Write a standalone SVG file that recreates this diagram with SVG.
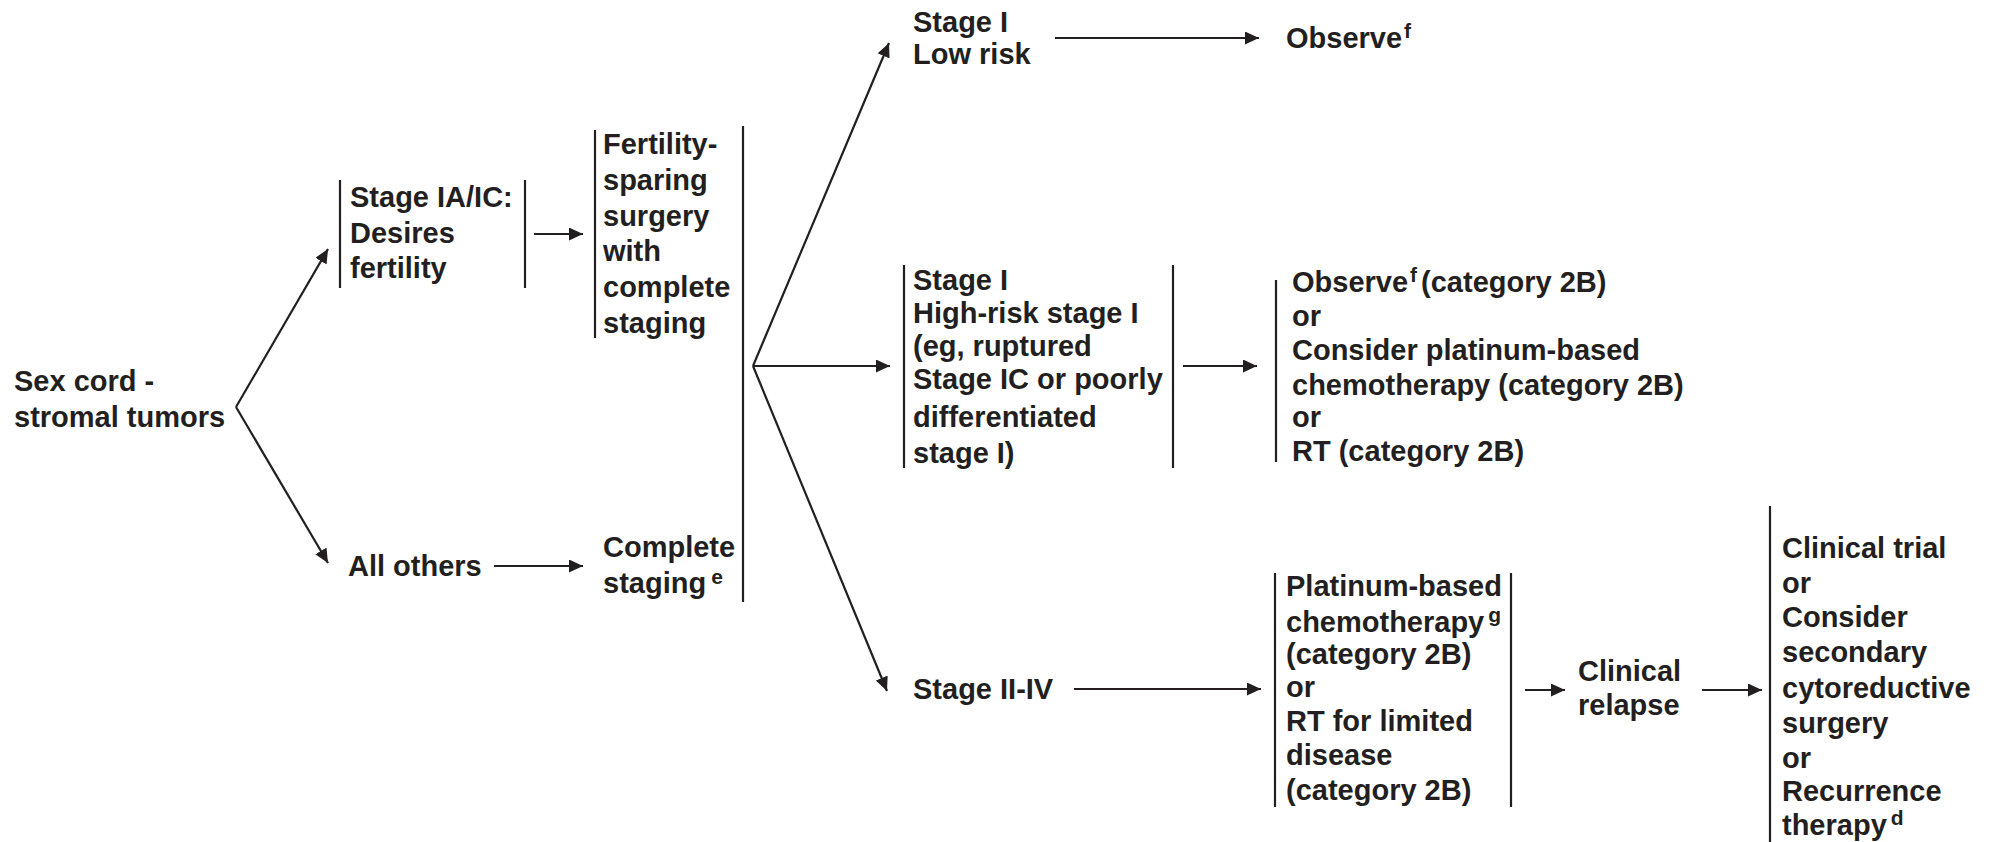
<svg xmlns="http://www.w3.org/2000/svg" width="1993" height="842" viewBox="0 0 1993 842">
<style>
text{font-family:"Liberation Sans",Arial,sans-serif;font-weight:bold;font-size:29px;fill:#231f20}
.sup{font-size:21px}
.bar{stroke:#231f20;stroke-width:2.2;fill:none}
.conn line{stroke:#231f20;stroke-width:2.2;fill:none;marker-end:url(#ah)}
</style>
<defs>
<marker id="ah" markerUnits="userSpaceOnUse" markerWidth="15" markerHeight="13" refX="14" refY="6.5" orient="auto">
<path d="M0,0 L14,6.5 L0,13 z" fill="#231f20"/>
</marker>
</defs>
<rect width="1993" height="842" fill="#fff"/>
<g id="n-sexcord">
<text><tspan x="14" y="391">Sex cord -</tspan><tspan x="14" y="427">stromal tumors</tspan></text>
</g>
<g id="n-desires">
<line class="bar" x1="340" y1="180" x2="340" y2="288"/>
<line class="bar" x1="525" y1="180" x2="525" y2="288"/>
<text><tspan x="350" y="207">Stage IA/IC:</tspan><tspan x="350" y="243">Desires</tspan><tspan x="350" y="278">fertility</tspan></text>
</g>
<g id="n-allothers">
<text x="348" y="576">All others</text>
</g>
<g id="n-fertility">
<line class="bar" x1="595" y1="130" x2="595" y2="338"/>
<text><tspan x="603" y="154">Fertility-</tspan><tspan x="603" y="190">sparing</tspan><tspan x="603" y="226">surgery</tspan><tspan x="603" y="261">with</tspan><tspan x="603" y="297">complete</tspan><tspan x="603" y="333">staging</tspan></text>
</g>
<g id="n-complete">
<text><tspan x="603" y="557">Complete</tspan><tspan x="603" y="593">staging</tspan><tspan class="sup" dx="5" dy="-9">e</tspan></text>
</g>
<g id="n-lowrisk">
<text><tspan x="913" y="32">Stage I</tspan><tspan x="913" y="64">Low risk</tspan></text>
</g>
<g id="n-observe1">
<text><tspan x="1286" y="48">Observe</tspan><tspan class="sup" dx="2" dy="-10">f</tspan></text>
</g>
<g id="n-highrisk">
<line class="bar" x1="904" y1="265" x2="904" y2="468"/>
<line class="bar" x1="1173" y1="265" x2="1173" y2="468"/>
<text><tspan x="913" y="290">Stage I</tspan><tspan x="913" y="323">High-risk stage I</tspan><tspan x="913" y="356">(eg, ruptured</tspan><tspan x="913" y="389">Stage IC or poorly</tspan><tspan x="913" y="427">differentiated</tspan><tspan x="913" y="463">stage I)</tspan></text>
</g>
<g id="n-observe2">
<line class="bar" x1="1276" y1="280" x2="1276" y2="462"/>
<text><tspan x="1292" y="292">Observe</tspan><tspan class="sup" dx="2" dy="-10">f</tspan><tspan dx="4" dy="10">(category 2B)</tspan><tspan x="1292" y="326">or</tspan><tspan x="1292" y="360">Consider platinum-based</tspan><tspan x="1292" y="395">chemotherapy (category 2B)</tspan><tspan x="1292" y="427">or</tspan><tspan x="1292" y="461">RT (category 2B)</tspan></text>
</g>
<g id="n-stage2">
<text x="913" y="699">Stage II-IV</text>
</g>
<g id="n-platinum">
<line class="bar" x1="1275" y1="573" x2="1275" y2="807"/>
<line class="bar" x1="1511" y1="573" x2="1511" y2="807"/>
<text><tspan x="1286" y="596">Platinum-based</tspan><tspan x="1286" y="632">chemotherapy</tspan><tspan class="sup" dx="4" dy="-10">g</tspan><tspan x="1286" y="664">(category 2B)</tspan><tspan x="1286" y="697">or</tspan><tspan x="1286" y="731">RT for limited</tspan><tspan x="1286" y="765">disease</tspan><tspan x="1286" y="800">(category 2B)</tspan></text>
</g>
<g id="n-relapse">
<text><tspan x="1578" y="681">Clinical</tspan><tspan x="1578" y="715">relapse</tspan></text>
</g>
<g id="n-final">
<line class="bar" x1="1770" y1="506" x2="1770" y2="842"/>
<text><tspan x="1782" y="558">Clinical trial</tspan><tspan x="1782" y="593">or</tspan><tspan x="1782" y="627">Consider</tspan><tspan x="1782" y="662">secondary</tspan><tspan x="1782" y="698">cytoreductive</tspan><tspan x="1782" y="733">surgery</tspan><tspan x="1782" y="768">or</tspan><tspan x="1782" y="801">Recurrence</tspan><tspan x="1782" y="835">therapy</tspan><tspan class="sup" dx="4" dy="-10">d</tspan></text>
</g>
<g id="connectors" class="conn">
<line class="bar" x1="743" y1="126" x2="743" y2="602" style="marker-end:none"/>
<line x1="236" y1="407" x2="328" y2="249"/>
<line x1="236" y1="407" x2="328" y2="563"/>
<line x1="534" y1="234" x2="583" y2="234"/>
<line x1="494" y1="566" x2="583" y2="566"/>
<line x1="753" y1="366" x2="889" y2="43"/>
<line x1="753" y1="366" x2="890" y2="366"/>
<line x1="753" y1="366" x2="887" y2="691"/>
<line x1="1055" y1="38" x2="1259" y2="38"/>
<line x1="1183" y1="366" x2="1257" y2="366"/>
<line x1="1074" y1="689" x2="1261" y2="689"/>
<line x1="1525" y1="690" x2="1565" y2="690"/>
<line x1="1702" y1="690" x2="1762" y2="690"/>
</g>
</svg>
